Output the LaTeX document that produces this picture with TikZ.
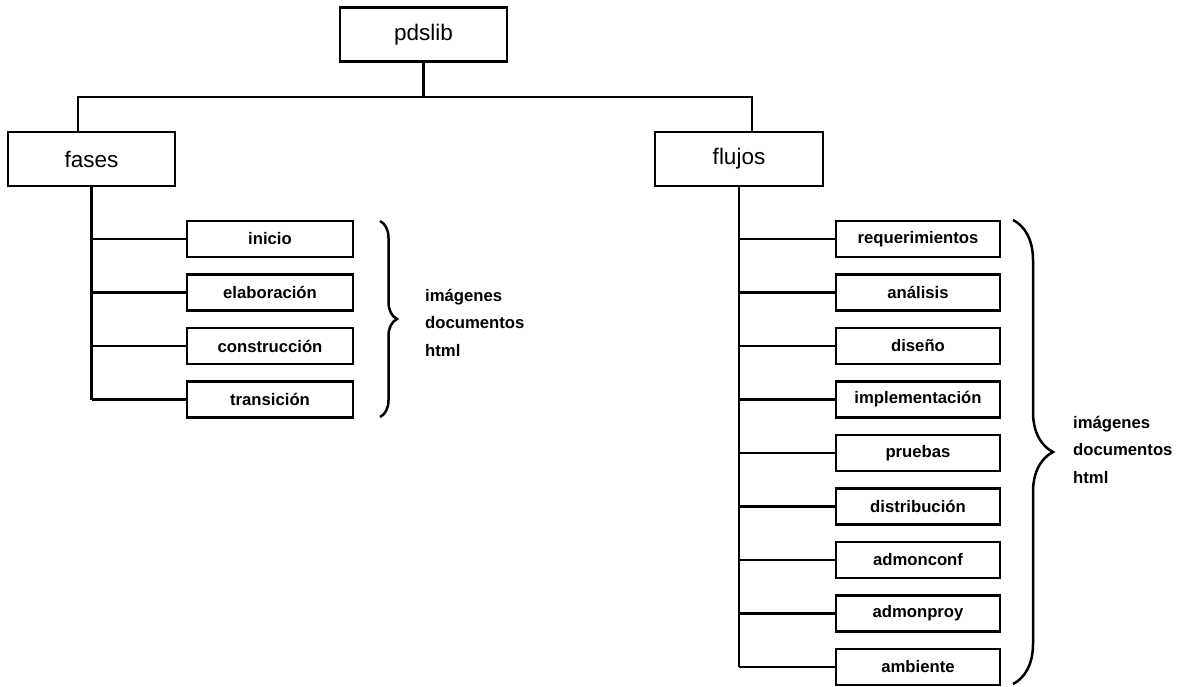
\documentclass[tikz,border=0pt]{standalone}
\usepackage{fontspec}
\setmainfont{Liberation Sans}
\usetikzlibrary{calc,decorations.pathreplacing}

\tikzset{
  topbox/.style={draw, line width=2.7pt, minimum width=167pt, minimum height=54pt,
    inner sep=0pt, font=\fontsize{22.5}{26}\selectfont},
  leafbox/.style={draw, line width=2.7pt, minimum width=164pt, minimum height=36pt,
    inner sep=0pt, font=\bfseries\fontsize{16.7}{19}\selectfont},
  link/.style={line width=2.3pt},
  bracket/.style={line width=2.5pt, decorate},
  note/.style={anchor=west, align=left, inner sep=0pt,
    font=\bfseries\fontsize{16.7}{27.5}\selectfont},
}

\begin{document}
\begin{tikzpicture}[x=1pt, y=-1pt]
  \useasboundingbox (0,0) rectangle (1185,687);

  % root and the two main branches
  \node[topbox, minimum width=167pt] (p) at (423.5,34.5) {pdslib};
  \node[topbox] (fa) at (91.5,159) {fases};
  \node[topbox, minimum width=168pt] (fl) at (739,159) {flujos};

  % bar joining the branches
  \coordinate (barL) at (78,97);
  \coordinate (barR) at (752,97);
  \draw[link] (p.south) -- (p.south |- barL);
  \draw[link] (barL |- fa.north) -- (barL) -- (barR) -- (barR |- fl.north);

  % phases
  \foreach \name/\txt [count=\i from 0] in
      {c1/inicio, c2/elaboración, c3/construcción, c4/transición} {
    \node[leafbox, minimum width=166pt] (\name) at (270, 239 + 53.5*\i) {\txt};
    \draw[link] (\name.west) -- (\name.west -| fa.south);
  }
  \draw[link] (fa.south) -- (fa.south |- c4.west);

  % workflows
  \foreach \name/\txt [count=\i from 0] in
      {r1/requerimientos, r2/análisis, r3/diseño, r4/implementación,
       r5/pruebas, r6/distribución, r7/admonconf, r8/admonproy, r9/ambiente} {
    \node[leafbox] (\name) at (918, 239 + 53.5*\i) {\txt};
    \draw[link] (\name.west) -- (\name.west -| fl.south);
  }
  \draw[link] (fl.south) -- (fl.south |- r9.west);

  % braces and their contents
  \coordinate (bl1) at (380,221);
  \coordinate (bl2) at (380,417);
  \draw[bracket, decoration={brace, amplitude=17pt}] (bl1) -- (bl2);
  \node[note] (nl) at (425,322.5) {imágenes\\documentos\\html};

  \coordinate (br1) at (1013,220);
  \coordinate (br2) at (1013,684);
  \draw[bracket, decoration={brace, amplitude=40pt}] (br1) -- (br2);
  \node[note] (nr) at (1073,449.5) {imágenes\\documentos\\html};
\end{tikzpicture}
\end{document}
